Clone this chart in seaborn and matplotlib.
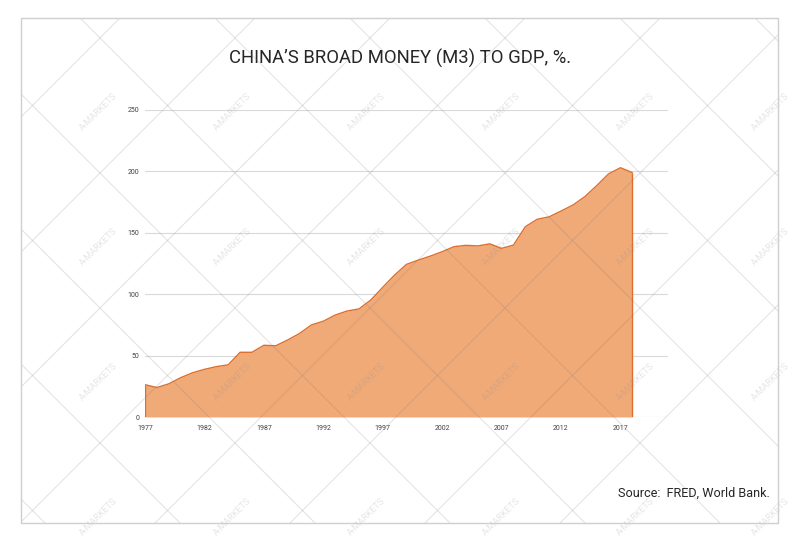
import numpy as np
import pandas as pd
import matplotlib
matplotlib.use('Agg')
import matplotlib.pyplot as plt
import seaborn as sns
from matplotlib.patches import Rectangle
from matplotlib.lines import Line2D
from matplotlib.transforms import Affine2D

years = list(range(1977, 2019))
m3_to_gdp = [26.3, 24.0, 27.0, 32.0, 36.0, 38.8, 41.0, 42.5, 52.7, 52.7,
             58.4, 58.0, 62.7, 68.0, 75.0, 78.0, 83.0, 86.3, 88.0, 95.3,
             105.6, 115.6, 124.3, 127.8, 131.0, 134.6, 138.7, 139.8, 139.3, 141.0,
             137.3, 140.0, 155.0, 161.0, 163.0, 167.7, 172.6, 179.4, 188.4, 198.0,
             203.0, 199.0]
x_ticks = [1977, 1982, 1987, 1992, 1997, 2002, 2007, 2012, 2017]
y_ticks = [0, 50, 100, 150, 200, 250]

title = 'CHINA\u2019S BROAD MONEY (M3) TO GDP, %.'
source = 'Source:  FRED, World Bank.'

df = pd.DataFrame({'year': years, 'value': m3_to_gdp})

sns.set_theme(style='white')
plt.rcParams['font.family'] = ['Roboto', 'DejaVu Sans']

fill_color = '#F0AA78'
edge_color = '#DE6E2C'

fig = plt.figure(figsize=(8, 5.42), dpi=100)
fig.patch.set_facecolor('white')

ax = fig.add_axes([145 / 800, 125 / 542, 523 / 800, 307 / 542])
ax.patch.set_alpha(0)

for t in y_ticks:
    ax.axhline(t, color='#d9d9d9', lw=0.8, zorder=0)

ax.fill_between(df['year'], df['value'], 0, color=fill_color, lw=0, zorder=2)
sns.lineplot(data=df, x='year', y='value', ax=ax, color=edge_color, lw=1.0, zorder=3)
ax.vlines([years[0], years[-1]], 0, [m3_to_gdp[0], m3_to_gdp[-1]],
          color=edge_color, lw=1.0, zorder=3)

ax.set_xlim(1977, 2021)
ax.set_ylim(0, 250)
ax.set_xticks(x_ticks)
ax.set_yticks(y_ticks)
ax.tick_params(axis='both', length=0, labelsize=5, labelcolor='#404040')
ax.tick_params(axis='y', pad=4)
ax.tick_params(axis='x', pad=6)
ax.set_xlabel('')
ax.set_ylabel('')
for s in ax.spines.values():
    s.set_visible(False)

fig.text(0.5, 1 - 58 / 542, title, ha='center', va='center', fontsize=13.3, color='#262626')
fig.text(770 / 800, 1 - 493 / 542, source, ha='right', va='center', fontsize=9.1, color='#262626')

# frame and watermark lattice (pixel coords, y down)
px = Affine2D().scale(1 / 800, -1 / 542).translate(0, 1) + fig.transFigure
frame = Rectangle((21, 18), 757, 505, transform=px, fill=False, edgecolor='#cfcfcf', lw=1.0, zorder=10)
fig.add_artist(frame)

for k in range(-6, 8):
    c = 62 + 135 * k
    d = 138 + 135 * k
    for line in (Line2D([0, 800], [0 - c, 800 - c]), Line2D([0, 800], [d, d - 800])):
        line.set_transform(px)
        line.set_color('#7a7a7a')
        line.set_alpha(0.2)
        line.set_linewidth(0.8)
        line.set_zorder(9)
        line.set_clip_path(frame)
        fig.add_artist(line)

for i in range(6):
    for j in range(4):
        fig.text((98 + 134.4 * i) / 800, 1 - (112 + 135 * j) / 542, 'A-MARKETS',
                 rotation=45, ha='center', va='center', fontsize=6.5,
                 color='#8a8a8a', alpha=0.22, zorder=9)

fig.savefig('out.png', dpi=100)
